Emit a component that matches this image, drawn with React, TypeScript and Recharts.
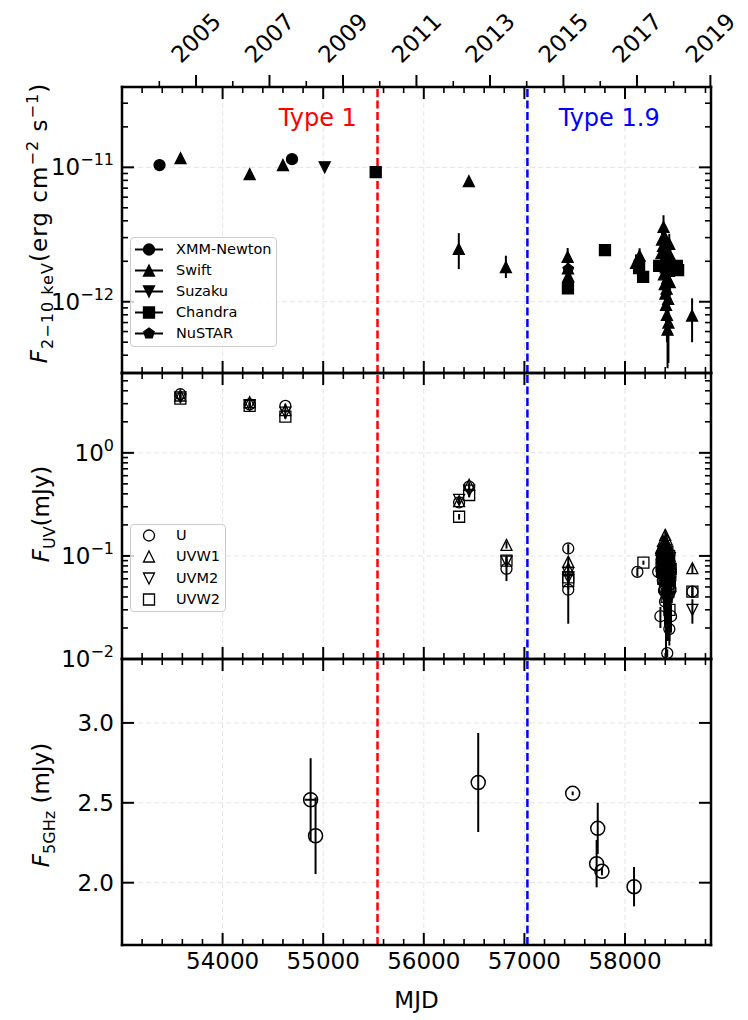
import React from 'react';
import { ScatterChart, Scatter, XAxis, YAxis, CartesianGrid, ReferenceLine, ErrorBar, Legend } from 'recharts';

const FONT = 'DejaVu Sans, Liberation Sans, sans-serif';

// ---------- axes ----------
const X_DOMAIN: [number, number] = [53000, 58855];
const MJD_TICKS = [53200, 53400, 53600, 53800, 54000, 54200, 54400, 54600, 54800, 55000, 55200, 55400, 55600, 55800, 56000, 56200, 56400, 56600, 56800, 57000, 57200, 57400, 57600, 57800, 58000, 58200, 58400, 58600, 58800];
const MJD_MAJOR = [54000, 55000, 56000, 57000, 58000];
const YEAR_TICKS = [53736, 54466, 55197, 55927, 56658, 57388, 58119, 58849];
const YEAR_LABELS = ['2005', '2007', '2009', '2011', '2013', '2015', '2017', '2019'];
const YEAR_MINOR = [53371, 54101, 54832, 55562, 56293, 57023, 57754, 58484];
const TYPE_LINES = [55540, 57030];
const TYPE_LABELS = ['Type 1', 'Type 1.9'];
const TYPE_COLORS = ['#ff0000', '#0000ff'];

const XRAY_DOMAIN: [number, number] = [2.95e-13, 3.96e-11];
const XRAY_TICKS = [4e-13, 5e-13, 6e-13, 7e-13, 8e-13, 9e-13, 1e-12, 2e-12, 3e-12, 4e-12, 5e-12, 6e-12, 7e-12, 8e-12, 9e-12, 1e-11, 2e-11, 3e-11];
const XRAY_MAJOR = [1e-12, 1e-11];
const XRAY_EXP = ['−12', '−11'];

const UV_DOMAIN: [number, number] = [0.01, 5.95];
const UV_TICKS = [0.01, 0.02, 0.03, 0.04, 0.05, 0.06, 0.07, 0.08, 0.09, 0.1, 0.2, 0.3, 0.4, 0.5, 0.6, 0.7, 0.8, 0.9, 1, 2, 3, 4, 5];
const UV_MAJOR = [0.01, 0.1, 1];
const UV_EXP = ['−2', '−1', '0'];

const RADIO_DOMAIN: [number, number] = [1.61, 3.4];
const RADIO_TICKS = [2.0, 2.5, 3.0];

// ---------- X-ray data: [MJD, flux, errLow, errHigh] ----------
const XMM = [
  [53373, 1.04e-11, 0, 0],
  [54690, 1.15e-11, 0, 0],
];
const SWIFT = [
  [53582, 1.17e-11, 0, 0],
  [54269, 8.9e-12, 0, 0],
  [54600, 1.04e-11, 0, 0],
  [56348, 2.47e-12, 0.72e-12, 0.77e-12],
  [56448, 7.9e-12, 0.3e-12, 0.3e-12],
  [56816, 1.81e-12, 0.31e-12, 0.39e-12],
  [57430, 2.16e-12, 0.25e-12, 0.35e-12],
  [57433, 1.77e-12, 0.2e-12, 0.2e-12],
  [57436, 1.55e-12, 0.2e-12, 0.2e-12],
  [58110, 1.95e-12, 0.25e-12, 0.3e-12],
  [58145, 2.2e-12, 0.3e-12, 0.3e-12],
  [58362, 2.3e-12, 0.3e-12, 0.35e-12],
  [58368, 2.9e-12, 0.4e-12, 0.5e-12],
  [58373, 1.9e-12, 0.3e-12, 0.3e-12],
  [58378, 2.6e-12, 0.35e-12, 0.4e-12],
  [58383, 3.6e-12, 0.7e-12, 0.8e-12],
  [58387, 1.6e-12, 0.3e-12, 0.3e-12],
  [58391, 2.1e-12, 0.35e-12, 0.4e-12],
  [58395, 1.35e-12, 0.3e-12, 0.3e-12],
  [58398, 3.0e-12, 0.5e-12, 0.6e-12],
  [58402, 1.15e-12, 0.3e-12, 0.3e-12],
  [58405, 1.8e-12, 0.3e-12, 0.35e-12],
  [58408, 0.95e-12, 0.3e-12, 0.3e-12],
  [58411, 2.4e-12, 0.4e-12, 0.45e-12],
  [58414, 1.25e-12, 0.3e-12, 0.3e-12],
  [58417, 0.8e-12, 0.3e-12, 0.3e-12],
  [58420, 1.5e-12, 0.3e-12, 0.3e-12],
  [58423, 0.62e-12, 0.3e-12, 0.25e-12],
  [58426, 2.0e-12, 0.35e-12, 0.4e-12],
  [58429, 1.05e-12, 0.3e-12, 0.3e-12],
  [58432, 0.7e-12, 0.35e-12, 0.3e-12],
  [58436, 1.7e-12, 0.3e-12, 0.35e-12],
  [58440, 2.7e-12, 0.45e-12, 0.5e-12],
  [58445, 1.4e-12, 0.3e-12, 0.3e-12],
  [58450, 2.2e-12, 0.35e-12, 0.4e-12],
  [58667, 7.9e-13, 2.9e-13, 2.7e-13],
];
const SUZAKU = [
  [55015, 1.0e-11, 0, 0],
];
const CHANDRA = [
  [55522, 9.2e-12, 0, 0],
  [57433, 1.26e-12, 0, 0],
  [57801, 2.42e-12, 0, 0],
  [58140, 1.78e-12, 0, 0],
  [58180, 1.53e-12, 0, 0],
  [58340, 1.85e-12, 0, 0],
  [58460, 1.8e-12, 0, 0],
  [58515, 1.85e-12, 0, 0],
  [58528, 1.72e-12, 0, 0],
];
const NUSTAR = [
  [57436, 1.75e-12, 0, 0],
  [58145, 1.95e-12, 0, 0],
  [58400, 1.9e-12, 0, 0],
];

// ---------- UV data: [MJD, flux mJy, err] ----------
const UV_U = [
  [53580, 3.7, 0.2], [54269, 2.95, 0.15], [54624, 2.85, 0.15], [56351, 0.33, 0.02], [56451, 0.47, 0.025],
  [56822, 0.075, 0.018], [57436, 0.118, 0.012], [57436, 0.047, 0.025], [58123, 0.07, 0.007],
  [58330, 0.07, 0.006], [58352, 0.026, 0.006], [58362, 0.105, 0.01], [58370, 0.088, 0.012], [58376, 0.058, 0.015],
  [58382, 0.118, 0.012], [58388, 0.046, 0.015], [58393, 0.078, 0.02], [58398, 0.036, 0.015], [58403, 0.098, 0.02],
  [58408, 0.055, 0.045], [58420, 0.0114, 0.001], [58418, 0.068, 0.03], [58424, 0.042, 0.02], [58430, 0.085, 0.025],
  [58441, 0.0195, 0.006], [58442, 0.052, 0.025], [58458, 0.026, 0.008], [58455, 0.072, 0.02],
  [58366, 0.095, 0.02], [58372, 0.075, 0.025], [58378, 0.11, 0.02], [58384, 0.065, 0.03], [58390, 0.09, 0.03],
  [58396, 0.06, 0.035], [58401, 0.12, 0.02], [58406, 0.08, 0.04], [58411, 0.045, 0.03], [58415, 0.1, 0.03],
  [58421, 0.058, 0.04], [58427, 0.07, 0.035], [58433, 0.095, 0.03], [58439, 0.062, 0.03], [58446, 0.082, 0.025],
  [58452, 0.048, 0.02], [58670, 0.045, 0.006],
];
const UV_W1 = [
  [53580, 3.6, 0.2], [54269, 3.1, 0.15], [54624, 2.6, 0.15], [56351, 0.34, 0.02], [56451, 0.49, 0.03],
  [56822, 0.128, 0.01], [57436, 0.088, 0.01], [57436, 0.075, 0.01],
  [58360, 0.12, 0.01], [58370, 0.095, 0.012], [58378, 0.14, 0.015], [58385, 0.08, 0.012], [58392, 0.11, 0.015],
  [58400, 0.16, 0.02], [58406, 0.07, 0.015], [58412, 0.1, 0.015], [58418, 0.13, 0.02], [58425, 0.065, 0.02],
  [58432, 0.09, 0.015], [58440, 0.115, 0.02], [58448, 0.075, 0.015],
  [58365, 0.105, 0.02], [58375, 0.125, 0.02], [58382, 0.09, 0.02], [58389, 0.135, 0.02], [58396, 0.1, 0.025],
  [58403, 0.12, 0.02], [58409, 0.085, 0.025], [58415, 0.145, 0.02], [58421, 0.095, 0.02], [58428, 0.11, 0.02],
  [58436, 0.08, 0.02], [58444, 0.1, 0.02], [58670, 0.076, 0.008],
];
const UV_M2 = [
  [53580, 3.45, 0.2], [54269, 2.9, 0.15], [54624, 2.45, 0.15], [56351, 0.35, 0.02], [56451, 0.43, 0.025],
  [56822, 0.088, 0.01], [57436, 0.068, 0.01], [57436, 0.062, 0.01],
  [58362, 0.09, 0.012], [58372, 0.065, 0.012], [58380, 0.11, 0.015], [58388, 0.055, 0.015], [58396, 0.085, 0.015],
  [58404, 0.045, 0.02], [58410, 0.1, 0.015], [58417, 0.06, 0.02], [58424, 0.035, 0.02], [58431, 0.075, 0.02],
  [58438, 0.05, 0.02], [58446, 0.095, 0.015], [58452, 0.04, 0.015],
  [58367, 0.075, 0.02], [58376, 0.095, 0.02], [58384, 0.07, 0.025], [58392, 0.1, 0.02], [58400, 0.065, 0.03],
  [58407, 0.08, 0.03], [58414, 0.09, 0.025], [58420, 0.05, 0.03], [58427, 0.085, 0.025], [58434, 0.06, 0.03],
  [58442, 0.07, 0.025], [58449, 0.055, 0.02], [58670, 0.03, 0.008],
];
const UV_W2 = [
  [53580, 3.35, 0.2], [54269, 2.85, 0.15], [54624, 2.25, 0.12], [56351, 0.24, 0.015], [56451, 0.39, 0.02],
  [56822, 0.09, 0.01], [57436, 0.062, 0.01], [57436, 0.057, 0.01], [58183, 0.086, 0.004],
  [58364, 0.08, 0.012], [58374, 0.1, 0.015], [58382, 0.06, 0.015], [58390, 0.09, 0.015], [58398, 0.05, 0.02],
  [58406, 0.075, 0.02], [58414, 0.04, 0.02], [58421, 0.11, 0.015], [58428, 0.055, 0.02], [58435, 0.085, 0.02],
  [58442, 0.03, 0.015], [58450, 0.065, 0.015],
  [58368, 0.07, 0.02], [58378, 0.085, 0.02], [58386, 0.105, 0.02], [58394, 0.065, 0.025], [58402, 0.095, 0.025],
  [58410, 0.06, 0.03], [58418, 0.08, 0.03], [58425, 0.07, 0.03], [58432, 0.045, 0.025], [58439, 0.1, 0.02],
  [58446, 0.05, 0.02], [58454, 0.075, 0.02], [58670, 0.045, 0.006],
];

// ---------- Radio data: [MJD, flux mJy, err, MJD err] ----------
const RADIO = [
  [54875, 2.519, 0.26, 60],
  [54924, 2.294, 0.24, 0],
  [56541, 2.627, 0.31, 0],
  [57480, 2.559, 0.012, 0],
  [57729, 2.34, 0.16, 0],
  [57718, 2.119, 0.148, 0],
  [57771, 2.071, 0.025, 0],
  [58090, 1.975, 0.123, 0],
];

type Kind = 'circle' | 'up' | 'down' | 'square' | 'pentagon';

const XRAY_SERIES: { name: string; kind: Kind; rows: number[][] }[] = [
  { name: 'XMM-Newton', kind: 'circle', rows: XMM },
  { name: 'Swift', kind: 'up', rows: SWIFT },
  { name: 'Suzaku', kind: 'down', rows: SUZAKU },
  { name: 'Chandra', kind: 'square', rows: CHANDRA },
  { name: 'NuSTAR', kind: 'pentagon', rows: NUSTAR },
];
const UV_SERIES: { name: string; kind: Kind; rows: number[][] }[] = [
  { name: 'U', kind: 'circle', rows: UV_U },
  { name: 'UVW1', kind: 'up', rows: UV_W1 },
  { name: 'UVM2', kind: 'down', rows: UV_M2 },
  { name: 'UVW2', kind: 'square', rows: UV_W2 },
];

// ---------- helpers ----------
const Mark = ({ kind, cx, cy, s, filled, sw }: { kind: Kind; cx: number; cy: number; s: number; filled: boolean; sw: number }) => {
  const r = s / 2;
  const fill = filled ? '#000' : 'none';
  if (kind === 'circle') return <circle cx={cx} cy={cy} r={r} fill={fill} stroke="#000" strokeWidth={sw} />;
  let d = '';
  if (kind === 'up') d = `M${cx},${cy - r}L${cx + r},${cy + r}L${cx - r},${cy + r}Z`;
  else if (kind === 'down') d = `M${cx},${cy + r}L${cx + r},${cy - r}L${cx - r},${cy - r}Z`;
  else if (kind === 'square') d = `M${cx - r},${cy - r}h${s}v${s}h${-s}Z`;
  else {
    const pts = [0, 1, 2, 3, 4].map((k) => {
      const a = (-90 + 72 * k) * Math.PI / 180;
      return `${cx + r * Math.cos(a)},${cy + r * Math.sin(a)}`;
    });
    d = `M${pts.join('L')}Z`;
  }
  return <path d={d} fill={fill} stroke="#000" strokeWidth={sw} strokeLinejoin="miter" />;
};

const shapeOf = (kind: Kind, s: number, filled: boolean, sw: number) => (p: any) => {
  if (p == null || p.cx == null || p.cy == null) return <g />;
  return <Mark kind={kind} cx={p.cx} cy={p.cy} s={s} filled={filled} sw={sw} />;
};

const AXIS_LINE = { stroke: '#000', strokeWidth: 2.5, strokeLinecap: 'square' as const };
const MAJ = 12;
const MIN = 6;

const bottomTick = (labels: boolean) => (props: any) => {
  const { x, y, payload } = props;
  const v = payload.value;
  const major = MJD_MAJOR.includes(v);
  return (
    <g>
      <line x1={x} x2={x} y1={y} y2={y - (major ? MAJ : MIN)} stroke="#000" strokeWidth={major ? 2 : 1.6} />
      {labels && major && (
        <text x={x} y={y + 24} textAnchor="middle" fontFamily={FONT} fontSize={23} fill="#000">{String(v)}</text>
      )}
    </g>
  );
};

const topTick = (years: boolean) => (props: any) => {
  const { x, y, payload } = props;
  const v = payload.value;
  const yi = YEAR_TICKS.indexOf(v);
  if (years && yi >= 0) {
    const ty = 38;
    return (
      <g>
        <line x1={x} x2={x} y1={y} y2={y - MAJ} stroke="#000" strokeWidth={2} />
        <text x={x} y={ty} transform={`rotate(-45 ${x} ${ty})`} textAnchor="middle" dominantBaseline="central" fontFamily={FONT} fontSize={23} fill="#000">{YEAR_LABELS[yi]}</text>
      </g>
    );
  }
  if (years && YEAR_MINOR.includes(v)) {
    return <line x1={x} x2={x} y1={y} y2={y - MIN} stroke="#000" strokeWidth={1.6} />;
  }
  if (!MJD_TICKS.includes(v)) return <g />;
  const major = MJD_MAJOR.includes(v);
  return <line x1={x} x2={x} y1={y} y2={y + (major ? MAJ : MIN)} stroke="#000" strokeWidth={major ? 2 : 1.6} />;
};

const leftLogTick = (majors: number[], exps: string[]) => (props: any) => {
  const { x, y, payload } = props;
  const i = majors.indexOf(payload.value);
  const major = i >= 0;
  return (
    <g>
      <line x1={x} x2={x + (major ? MAJ : MIN)} y1={y} y2={y} stroke="#000" strokeWidth={major ? 2 : 1.6} />
      {major && (
        <text x={x - 8} y={y + 8} textAnchor="end" fontFamily={FONT} fontSize={23} fill="#000">
          <tspan>10</tspan>
          <tspan fontSize={16} dy={-10}>{exps[i]}</tspan>
        </text>
      )}
    </g>
  );
};

const rightTick = (majors: number[]) => (props: any) => {
  const { x, y, payload } = props;
  const major = majors.includes(payload.value);
  return <line x1={x} x2={x - (major ? MAJ : MIN)} y1={y} y2={y} stroke="#000" strokeWidth={major ? 2 : 1.6} />;
};

const radioLeftTick = (props: any) => {
  const { x, y, payload } = props;
  return (
    <g>
      <line x1={x} x2={x + MAJ} y1={y} y2={y} stroke="#000" strokeWidth={2} />
      <text x={x - 8} y={y + 8} textAnchor="end" fontFamily={FONT} fontSize={23} fill="#000">{Number(payload.value).toFixed(1)}</text>
    </g>
  );
};

const xrayLabel = () => (
  <text transform="translate(47,223) rotate(-90)" textAnchor="middle" fontFamily={FONT} fontSize={23} letterSpacing={1.05} fill="#000">
    <tspan fontStyle="italic">F</tspan>
    <tspan fontSize={16} dy={6}>2−10{'\u00A0'}keV</tspan>
    <tspan dy={-6}>(erg{'\u00A0'}cm</tspan>
    <tspan fontSize={16} dy={-9}>−2</tspan>
    <tspan dy={9}>{'\u00A0'}s</tspan>
    <tspan fontSize={16} dy={-9}>−1</tspan>
    <tspan dy={9}>)</tspan>
  </text>
);
const uvLabel = () => (
  <text transform="translate(49,151) rotate(-90)" textAnchor="middle" fontFamily={FONT} fontSize={23} fill="#000">
    <tspan fontStyle="italic">F</tspan>
    <tspan fontSize={16} dy={6}>UV</tspan>
    <tspan dy={-6}>(mJy)</tspan>
  </text>
);
const radioLabel = () => (
  <text transform="translate(49,156) rotate(-90)" textAnchor="middle" fontFamily={FONT} fontSize={23} fill="#000">
    <tspan fontStyle="italic">F</tspan>
    <tspan fontSize={16} dy={6}>5GHz</tspan>
    <tspan dy={-6}>{'\u00A0'}(mJy)</tspan>
  </text>
);

const XrayLegend = () => (
  <div style={{ boxSizing: 'border-box', width: 147, height: 110, border: '1px solid #cccccc', borderRadius: 4, background: 'rgba(255,255,255,0.8)', paddingTop: 1 }}>
    {XRAY_SERIES.map((s) => (
      <div key={s.name} style={{ display: 'flex', alignItems: 'center', height: 21 }}>
        <svg width={45} height={21} style={{ display: 'block', flex: 'none' }}>
          <line x1={4} x2={32} y1={10.5} y2={10.5} stroke="#000" strokeWidth={2} />
          <Mark kind={s.kind} cx={18} cy={10.5} s={11} filled sw={1.3} />
        </svg>
        <span style={{ fontFamily: FONT, fontSize: 14.5, lineHeight: '21px', color: '#000', whiteSpace: 'nowrap' }}>{s.name}</span>
      </div>
    ))}
  </div>
);

const UvLegend = () => (
  <div style={{ boxSizing: 'border-box', width: 96, height: 88, border: '1px solid #cccccc', borderRadius: 4, background: 'rgba(255,255,255,0.8)', paddingTop: 0 }}>
    {UV_SERIES.map((s) => (
      <div key={s.name} style={{ display: 'flex', alignItems: 'center', height: 21.3 }}>
        <svg width={45} height={21} style={{ display: 'block', flex: 'none' }}>
          <Mark kind={s.kind} cx={18} cy={10.5} s={11} filled={false} sw={1.3} />
        </svg>
        <span style={{ fontFamily: FONT, fontSize: 14.5, lineHeight: '21px', color: '#000', whiteSpace: 'nowrap' }}>{s.name}</span>
      </div>
    ))}
  </div>
);

const typeLabel = (i: number) => (p: any) => {
  const vx = p && p.viewBox ? p.viewBox.x : TYPE_LINES[i];
  const dx = i === 0 ? -59.7 : 81.8;
  return (
    <text x={vx + dx} y={125.5} textAnchor="middle" fontFamily={FONT} fontSize={24} fill={TYPE_COLORS[i]}>{TYPE_LABELS[i]}</text>
  );
};

const refLines = (withLabels: boolean) =>
  TYPE_LINES.map((v, i) => (
    <ReferenceLine
      key={`ref-${i}`}
      x={v}
      stroke={TYPE_COLORS[i]}
      strokeWidth={2.5}
      strokeDasharray="8 3.5"
      label={withLabels ? typeLabel(i) : undefined}
    />
  ));

const MARGIN = { top: 0, right: 0, bottom: 0, left: 0 };
const GRID = { stroke: '#e4e4e4', strokeDasharray: '5 3', strokeWidth: 1 };

export default function App() {
  const xrayData = XRAY_SERIES.map((s) => s.rows.map((r) => ({ x: r[0], y: r[1], e: [r[2], r[3]] })));
  const uvData = UV_SERIES.map((s) => s.rows.map((r) => ({ x: r[0], y: r[1], e: r[2] })));
  const radioData = RADIO.map((r) => ({ x: r[0], y: r[1], e: r[2], ex: r[3] }));

  return (
    <div style={{ position: 'absolute', left: 0, top: 0, width: 748, height: 1020, background: '#fff' }}>
      {/* X-ray panel */}
      <div style={{ position: 'absolute', left: 0, top: 0 }}>
        <ScatterChart width={748} height={383} margin={MARGIN}>
          <CartesianGrid {...GRID} verticalValues={MJD_MAJOR} horizontalValues={XRAY_MAJOR} />
          <XAxis dataKey="x" type="number" domain={X_DOMAIN} allowDataOverflow ticks={MJD_TICKS} interval={0} height={10} tickSize={0} tickMargin={0} tickLine={false} axisLine={AXIS_LINE} tick={bottomTick(false)} />
          <XAxis xAxisId="top" orientation="top" dataKey="x" type="number" domain={X_DOMAIN} allowDataOverflow ticks={[...MJD_TICKS, ...YEAR_TICKS, ...YEAR_MINOR]} interval={0} height={87} tickSize={0} tickMargin={0} tickLine={false} axisLine={AXIS_LINE} tick={topTick(true)} />
          <YAxis dataKey="y" type="number" scale="log" domain={XRAY_DOMAIN} allowDataOverflow ticks={XRAY_TICKS} interval={0} width={122} tickSize={0} tickMargin={0} tickLine={false} axisLine={AXIS_LINE} tick={leftLogTick(XRAY_MAJOR, XRAY_EXP)} label={xrayLabel} />
          <YAxis yAxisId="r" orientation="right" dataKey="y" type="number" scale="log" domain={XRAY_DOMAIN} allowDataOverflow ticks={XRAY_TICKS} interval={0} width={37} tickSize={0} tickMargin={0} tickLine={false} axisLine={AXIS_LINE} tick={rightTick(XRAY_MAJOR)} />
          {refLines(true)}
          {XRAY_SERIES.map((s, i) => (
            <Scatter key={s.name} name={s.name} data={xrayData[i]} isAnimationActive={false} shape={shapeOf(s.kind, 11, true, 1.3)}>
              <ErrorBar dataKey="e" direction="y" width={0} stroke="#000" strokeWidth={2} />
            </Scatter>
          ))}
          <Legend layout="vertical" align="center" verticalAlign="middle" wrapperStyle={{ left: 130, top: 237, width: 147, height: 110, margin: 0, padding: 0 }} content={() => <XrayLegend />} />
        </ScatterChart>
      </div>

      {/* UV panel */}
      <div style={{ position: 'absolute', left: 0, top: 363 }}>
        <ScatterChart width={748} height={326} margin={MARGIN}>
          <CartesianGrid {...GRID} verticalValues={MJD_MAJOR} horizontalValues={UV_MAJOR} />
          <XAxis dataKey="x" type="number" domain={X_DOMAIN} allowDataOverflow ticks={MJD_TICKS} interval={0} height={30} tickSize={0} tickMargin={0} tickLine={false} axisLine={AXIS_LINE} tick={bottomTick(false)} />
          <XAxis xAxisId="top" orientation="top" dataKey="x" type="number" domain={X_DOMAIN} allowDataOverflow ticks={MJD_TICKS} interval={0} height={10} tickSize={0} tickMargin={0} tickLine={false} axisLine={AXIS_LINE} tick={topTick(false)} />
          <YAxis dataKey="y" type="number" scale="log" domain={UV_DOMAIN} allowDataOverflow ticks={UV_TICKS} interval={0} width={122} tickSize={0} tickMargin={0} tickLine={false} axisLine={AXIS_LINE} tick={leftLogTick(UV_MAJOR, UV_EXP)} label={uvLabel} />
          <YAxis yAxisId="r" orientation="right" dataKey="y" type="number" scale="log" domain={UV_DOMAIN} allowDataOverflow ticks={UV_TICKS} interval={0} width={37} tickSize={0} tickMargin={0} tickLine={false} axisLine={AXIS_LINE} tick={rightTick(UV_MAJOR)} />
          {refLines(false)}
          {UV_SERIES.map((s, i) => (
            <Scatter key={s.name} name={s.name} data={uvData[i]} isAnimationActive={false} shape={shapeOf(s.kind, 11, false, 1.3)}>
              <ErrorBar dataKey="e" direction="y" width={0} stroke="#000" strokeWidth={2} />
            </Scatter>
          ))}
          <Legend layout="vertical" align="center" verticalAlign="middle" wrapperStyle={{ left: 130, top: 161, width: 96, height: 88, margin: 0, padding: 0 }} content={() => <UvLegend />} />
        </ScatterChart>
      </div>

      {/* Radio panel */}
      <div style={{ position: 'absolute', left: 0, top: 649 }}>
        <ScatterChart width={748} height={371} margin={MARGIN}>
          <CartesianGrid {...GRID} verticalValues={MJD_MAJOR} horizontalValues={RADIO_TICKS} />
          <XAxis dataKey="x" type="number" domain={X_DOMAIN} allowDataOverflow ticks={MJD_TICKS} interval={0} height={75} tickSize={0} tickMargin={0} tickLine={false} axisLine={AXIS_LINE} tick={bottomTick(true)}
            label={(p: any) => {
              const vb = p && p.viewBox ? p.viewBox : { x: 122, width: 589, y: 296 };
              return <text x={vb.x + vb.width / 2} y={359} textAnchor="middle" fontFamily={FONT} fontSize={23} fill="#000">MJD</text>;
            }} />
          <XAxis xAxisId="top" orientation="top" dataKey="x" type="number" domain={X_DOMAIN} allowDataOverflow ticks={MJD_TICKS} interval={0} height={10} tickSize={0} tickMargin={0} tickLine={false} axisLine={AXIS_LINE} tick={topTick(false)} />
          <YAxis dataKey="y" type="number" domain={RADIO_DOMAIN} allowDataOverflow ticks={RADIO_TICKS} interval={0} width={122} tickSize={0} tickMargin={0} tickLine={false} axisLine={AXIS_LINE} tick={radioLeftTick} label={radioLabel} />
          <YAxis yAxisId="r" orientation="right" dataKey="y" type="number" domain={RADIO_DOMAIN} allowDataOverflow ticks={RADIO_TICKS} interval={0} width={37} tickSize={0} tickMargin={0} tickLine={false} axisLine={AXIS_LINE} tick={rightTick(RADIO_TICKS)} />
          {refLines(false)}
          <Scatter name="5 GHz" data={radioData} isAnimationActive={false} shape={shapeOf('circle', 14, false, 1.5)}>
            <ErrorBar dataKey="e" direction="y" width={0} stroke="#000" strokeWidth={2} />
            <ErrorBar dataKey="ex" direction="x" width={0} stroke="#000" strokeWidth={2} />
          </Scatter>
        </ScatterChart>
      </div>
    </div>
  );
}
